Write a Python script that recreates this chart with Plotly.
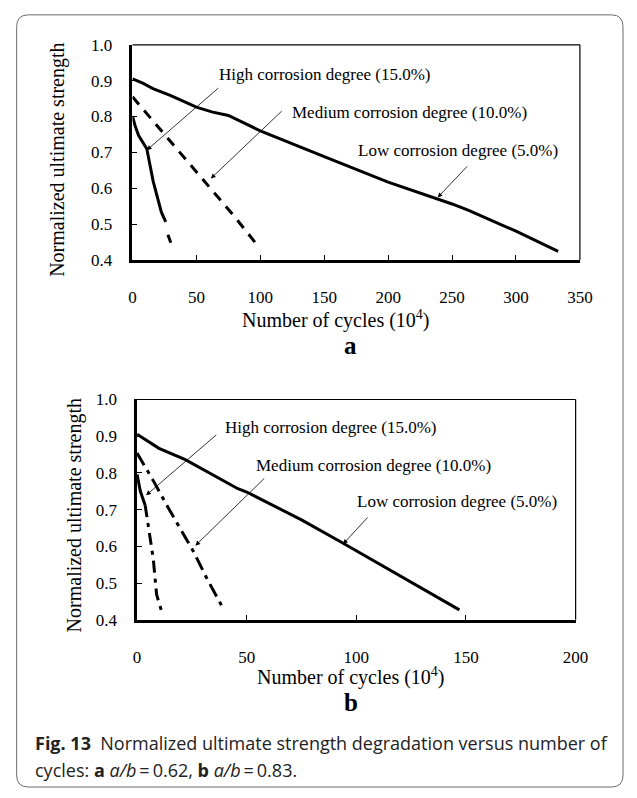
import plotly.graph_objects as go

# ---------------- data (panel a: a/b = 0.62) ----------------
a_low_x = [0, 8, 16, 30, 50, 62, 75, 100, 150, 200, 250, 263, 300, 333]
a_low_y = [0.905, 0.893, 0.878, 0.858, 0.826, 0.813, 0.803, 0.760, 0.688, 0.617, 0.556, 0.538, 0.480, 0.424]
a_med_x = [0, 11.4, 30, 50, 62, 80, 96.3]
a_med_y = [0.855, 0.807, 0.728, 0.645, 0.595, 0.520, 0.447]
a_high_x = [0, 2, 4.8, 11.2, 16.2, 22.6, 26]
a_high_y = [0.801, 0.775, 0.747, 0.710, 0.619, 0.533, 0.506]
a_high_ext_x = [27.7, 30]
a_high_ext_y = [0.470, 0.448]

# ---------------- data (panel b: a/b = 0.83) ----------------
b_low_x = [0, 4, 10, 22, 37, 46, 50, 75, 93, 120, 147]
b_low_y = [0.905, 0.889, 0.867, 0.836, 0.788, 0.757, 0.748, 0.672, 0.612, 0.520, 0.427]
b_med_x = [0, 7.4, 14.8, 25.9, 31.8, 39]
b_med_y = [0.854, 0.779, 0.699, 0.584, 0.513, 0.434]
b_high_x = [0, 1.5, 3.7]
b_high_y = [0.796, 0.750, 0.712]
b_high_ext_x = [3.7, 5.5, 7.4, 8.9, 11.1]
b_high_ext_y = [0.712, 0.640, 0.566, 0.469, 0.425]

y_ticks = [0.4, 0.5, 0.6, 0.7, 0.8, 0.9, 1.0]
a_x_ticks = [0, 50, 100, 150, 200, 250, 300, 350]
b_x_ticks = [0, 50, 100, 150, 200]

labels = ["High corrosion degree (15.0%)", "Medium corrosion degree (10.0%)", "Low corrosion degree (5.0%)"]
x_title = "Number of cycles (10<sup>4</sup>)"
y_title = "Normalized ultimate strength"
caption1 = "<b>Fig. 13</b>  Normalized ultimate strength degradation versus number of"
caption2 = "cycles: <b>a</b> <i>a/b</i>\u2009=\u20090.62, <b>b</b> <i>a/b</i>\u2009=\u20090.83."

W, H = 637, 798
SERIF = "Liberation Serif"


def px(x):
    return x / W


def py(y):
    return 1 - y / H


fig = go.Figure()

fig.add_trace(go.Scatter(x=a_low_x, y=a_low_y, mode="lines", line=dict(color="black", width=3), xaxis="x", yaxis="y"))
fig.add_trace(go.Scatter(x=a_med_x, y=a_med_y, mode="lines", line=dict(color="black", width=3, dash="10px,8px"), xaxis="x", yaxis="y"))
fig.add_trace(go.Scatter(x=a_high_x, y=a_high_y, mode="lines", line=dict(color="black", width=3), xaxis="x", yaxis="y"))
fig.add_trace(go.Scatter(x=a_high_ext_x, y=a_high_ext_y, mode="lines", line=dict(color="black", width=3), xaxis="x", yaxis="y"))

fig.add_trace(go.Scatter(x=b_low_x, y=b_low_y, mode="lines", line=dict(color="black", width=3), xaxis="x2", yaxis="y2"))
fig.add_trace(go.Scatter(x=b_med_x, y=b_med_y, mode="lines", line=dict(color="black", width=3, dash="14px,6px,4px,6px"), xaxis="x2", yaxis="y2"))
fig.add_trace(go.Scatter(x=b_high_x, y=b_high_y, mode="lines", line=dict(color="black", width=3), xaxis="x2", yaxis="y2"))
fig.add_trace(go.Scatter(x=b_high_ext_x, y=b_high_ext_y, mode="lines", line=dict(color="black", width=3, dash="12px,6px,4px,6px"), xaxis="x2", yaxis="y2"))

tick_font = dict(family=SERIF, size=17, color="black")
axis_common = dict(
    showgrid=False, zeroline=False, showline=True, linecolor="black", linewidth=2.5,
    ticks="inside", ticklen=5, tickwidth=1, tickcolor="black", tickfont=tick_font,
)

fig.update_layout(
    width=W, height=H, margin=dict(l=0, r=0, t=0, b=0),
    font=dict(family=SERIF, size=17, color="black"),
    paper_bgcolor="white", plot_bgcolor="white", showlegend=False,
    xaxis=dict(domain=[px(132), px(591.7)], range=[0, 350], tickvals=a_x_ticks, anchor="y",
               ticklabelstandoff=20, **axis_common),
    yaxis=dict(domain=[py(257), py(36.7)], range=[0.4, 1.0], tickvals=y_ticks, tickformat=".1f",
               anchor="x", ticklabelstandoff=14, **axis_common),
    xaxis2=dict(domain=[px(136.7), px(587.3)], range=[0, 200], tickvals=b_x_ticks, anchor="y2",
                ticklabelstandoff=20, **axis_common),
    yaxis2=dict(domain=[py(625.7), py(400)], range=[0.4, 1.0], tickvals=y_ticks, tickformat=".1f",
                anchor="x2", ticklabelstandoff=14, **axis_common),
)

shapes = []
for xr, yr in (("x domain", "y domain"), ("x2 domain", "y2 domain")):
    shapes.append(dict(type="line", xref=xr, yref=yr, x0=0, x1=1, y0=1, y1=1, line=dict(color="black", width=1.2)))
    shapes.append(dict(type="line", xref=xr, yref=yr, x0=1, x1=1, y0=0, y1=1, line=dict(color="black", width=1.2)))

# rounded card border
L, T, R, B, r = 13, 6, 636, 797, 12
path = (f"M {px(L)},{py(T + r)} Q {px(L)},{py(T)} {px(L + r)},{py(T)} "
        f"L {px(R - r)},{py(T)} Q {px(R)},{py(T)} {px(R)},{py(T + r)} "
        f"L {px(R)},{py(B - r)} Q {px(R)},{py(B)} {px(R - r)},{py(B)} "
        f"L {px(L + r)},{py(B)} Q {px(L)},{py(B)} {px(L)},{py(B - r)} Z")
shapes.append(dict(type="path", xref="paper", yref="paper", path=path, line=dict(color="#6a6a6a", width=1)))
fig.update_layout(shapes=shapes)

ann = []
txt_font = dict(family=SERIF, size=17, color="black")

a_text_pos = [(150.3, 0.916), (216.6, 0.812), (254.8, 0.706)]
a_heads = [(11.2, 0.706), (61.3, 0.627), (238.7, 0.574)]
a_tails = [(68.3, 0.883), (117.9, 0.819), (262.9, 0.665)]
for lab, (tx, ty) in zip(labels, a_text_pos):
    ann.append(dict(x=tx, y=ty, xref="x", yref="y", text=lab, showarrow=False, font=txt_font,
                    xanchor="center", yanchor="middle"))
for (hx, hy), (tx, ty) in zip(a_heads, a_tails):
    ann.append(dict(x=hx, y=hy, xref="x", yref="y", ax=tx, ay=ty, axref="x", ayref="y", text="",
                    showarrow=True, arrowhead=2, arrowsize=1.2, arrowwidth=0.8, arrowcolor="black"))

b_text_pos = [(88.6, 0.925), (108.0, 0.821), (145.9, 0.721)]
b_heads = [(4.1, 0.739), (26.6, 0.602), (93.9, 0.606)]
b_tails = [(36.8, 0.907), (58.7, 0.789), (105.8, 0.683)]
for lab, (tx, ty) in zip(labels, b_text_pos):
    ann.append(dict(x=tx, y=ty, xref="x2", yref="y2", text=lab, showarrow=False, font=txt_font,
                    xanchor="center", yanchor="middle"))
for (hx, hy), (tx, ty) in zip(b_heads, b_tails):
    ann.append(dict(x=hx, y=hy, xref="x2", yref="y2", ax=tx, ay=ty, axref="x2", ayref="y2", text="",
                    showarrow=True, arrowhead=2, arrowsize=1.2, arrowwidth=0.8, arrowcolor="black"))

title_font = dict(family=SERIF, size=20, color="black")
ann.append(dict(x=px(341.5), y=py(318), xref="paper", yref="paper", text=x_title, showarrow=False,
                font=title_font, xanchor="center", yanchor="middle"))
ann.append(dict(x=px(55), y=py(155), xref="paper", yref="paper", text=y_title, showarrow=False,
                font=title_font, textangle=-90, xanchor="center", yanchor="middle"))
ann.append(dict(x=px(357), y=py(684), xref="paper", yref="paper", text=x_title, showarrow=False,
                font=title_font, xanchor="center", yanchor="middle"))
ann.append(dict(x=px(72.7), y=py(519), xref="paper", yref="paper", text=y_title, showarrow=False,
                font=title_font, textangle=-90, xanchor="center", yanchor="middle"))
ann.append(dict(x=px(356), y=py(345), xref="paper", yref="paper", text="<b>a</b>", showarrow=False,
                font=dict(family=SERIF, size=25, color="black"), xanchor="center", yanchor="middle"))
ann.append(dict(x=px(357), y=py(710), xref="paper", yref="paper", text="<b>b</b>", showarrow=False,
                font=dict(family=SERIF, size=25, color="black"), xanchor="center", yanchor="middle"))
cap_font = dict(family="Open Sans", size=18, color="#222222")
ann.append(dict(x=px(30), y=py(752), xref="paper", yref="paper", text=caption1, showarrow=False,
                font=cap_font, xanchor="left", yanchor="middle"))
ann.append(dict(x=px(30), y=py(780), xref="paper", yref="paper", text=caption2, showarrow=False,
                font=cap_font, xanchor="left", yanchor="middle"))

fig.update_layout(annotations=ann)
fig.write_html("out.html")
